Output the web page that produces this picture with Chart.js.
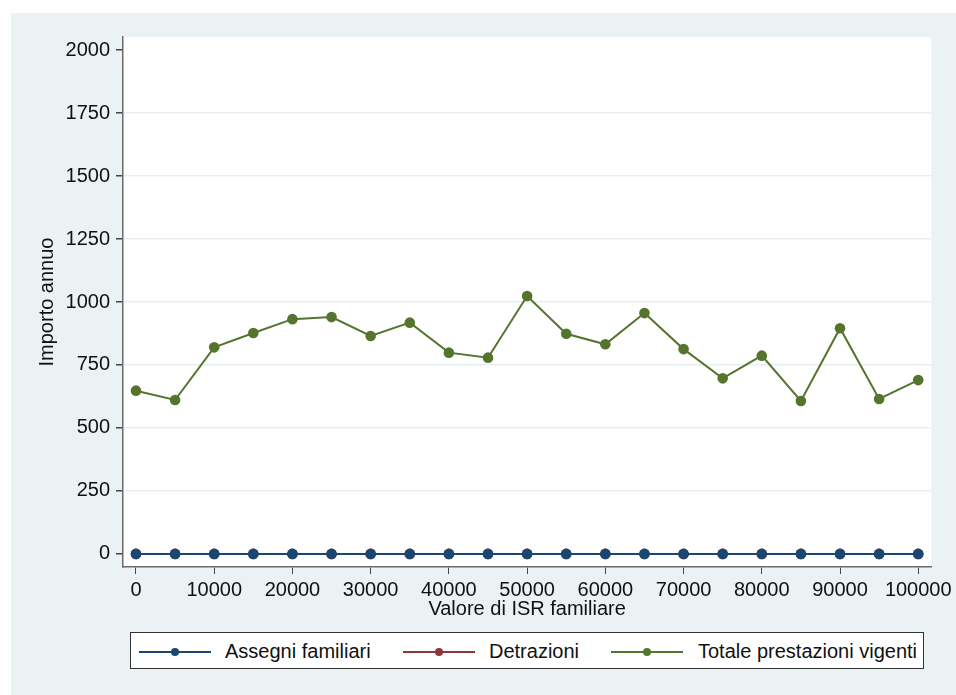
<!DOCTYPE html>
<html>
<head>
<meta charset="utf-8">
<script src="https://cdn.jsdelivr.net/npm/chart.js@4"></script>
<style>
  html, body { margin: 0; padding: 0; background: #ffffff; width: 956px; height: 695px; overflow: hidden; font-family: "Liberation Sans", Arial, sans-serif; }
  #bg { position: absolute; left: 11px; top: 13px; width: 945px; height: 682px; background: #eaf2f3; }
  #wrap { position: absolute; left: 11px; top: 13px; width: 945px; height: 682px; }
  #legend { position: absolute; left: 130px; top: 632px; width: 794px; height: 37px; border: 1px solid #333; background: #fff; box-sizing: border-box; }
  .item { position: absolute; top: 0; height: 100%; }
  .ln { position: absolute; top: 18px; height: 2px; width: 72px; }
  .dot { position: absolute; top: 15px; width: 8px; height: 8px; border-radius: 50%; }
  .txt { position: absolute; top: 6px; font-size: 20px; color: #111; white-space: nowrap; line-height: 24px; }
</style>
</head>
<body>
<div id="bg"></div>
<div id="wrap"><canvas id="c"></canvas></div>
<div id="legend"></div>
<script>
// ---- data ----
const isrValues = [0,5000,10000,15000,20000,25000,30000,35000,40000,45000,50000,55000,60000,65000,70000,75000,80000,85000,90000,95000,100000];
const assegniFamiliari = [0,0,0,0,0,0,0,0,0,0,0,0,0,0,0,0,0,0,0,0,0];
const detrazioni = [0,0,0,0,0,0,0,0,0,0,0,0,0,0,0,0,0,0,0,0,0];
const totalePrestazioni = [648,611,820,877,932,940,865,918,799,779,1024,874,832,956,813,697,787,607,896,615,690];
const xTickValues = [0,10000,20000,30000,40000,50000,60000,70000,80000,90000,100000];
const yTickValues = [0,250,500,750,1000,1250,1500,1750,2000];
const seriesNames = ["Assegni familiari","Detrazioni","Totale prestazioni vigenti"];
const seriesColors = ["#1a476f","#90353b","#55752f"];

const seriesValues = [assegniFamiliari, detrazioni, totalePrestazioni];
const datasets = seriesValues.map((vals, i) => ({
  label: seriesNames[i],
  data: isrValues.map((x, j) => ({x: x, y: vals[j]})),
  borderColor: seriesColors[i],
  backgroundColor: seriesColors[i],
  pointBackgroundColor: seriesColors[i],
  pointBorderColor: seriesColors[i],
  borderWidth: 2,
  pointRadius: 5.3,
  pointBorderWidth: 0,
  tension: 0,
  fill: false
}));

const FONT = "'Liberation Sans', Arial, sans-serif";

const canvas = document.getElementById('c');
canvas.style.width = '945px';
canvas.style.height = '682px';

new Chart(canvas, {
  type: 'line',
  data: { datasets },
  options: {
    responsive: false,
    animation: false,
    devicePixelRatio: 1,
    layout: { padding: { left: 0, top: 24, right: 24, bottom: 62 } },
    plugins: {
      legend: { display: false },
      tooltip: { enabled: false }
    },
    scales: {
      x: {
        type: 'linear',
        min: -1660,
        max: 101660,
        afterBuildTicks: (s) => { s.ticks = xTickValues.map(v => ({value: v})); },
        afterFit: (s) => { s.height = 66; },
        grid: { drawOnChartArea: false, drawTicks: true, tickLength: 7, tickColor: '#444', lineWidth: 1 },
        border: { display: true, color: '#6a6a6a', width: 1.5 },
        ticks: { color: '#111', font: { family: FONT, size: 20 }, padding: 4, maxRotation: 0, autoSkip: false, callback: (v) => String(v) },
        title: { display: true, text: 'Valore di ISR familiare', color: '#111', font: { family: FONT, size: 20 }, padding: { top: 0, bottom: 12 } }
      },
      y: {
        type: 'linear',
        min: -52,
        max: 2052,
        afterBuildTicks: (s) => { s.ticks = yTickValues.map(v => ({value: v})); },
        afterFit: (s) => { s.width = 112; },
        grid: {
          drawTicks: true,
          tickLength: 7,
          tickColor: '#444',
          lineWidth: 1.5,
          color: (ctx) => (ctx.tick && (ctx.tick.value === 0 || ctx.tick.value === 2000)) ? 'rgba(0,0,0,0)' : '#e8eff1'
        },
        border: { display: true, color: '#6a6a6a', width: 1.5 },
        ticks: { color: '#111', font: { family: FONT, size: 20 }, padding: 6, autoSkip: false, callback: (v) => String(v) },
        title: { display: true, text: 'Importo annuo', color: '#111', font: { family: FONT, size: 20 }, padding: { top: 24.5, bottom: 0 } }
      }
    }
  },
  plugins: [{
    id: 'whiteArea',
    beforeDraw(chart) {
      const {ctx, chartArea: a} = chart;
      ctx.save();
      ctx.fillStyle = '#ffffff';
      ctx.fillRect(a.left, a.top, a.right - a.left, a.bottom - a.top);
      ctx.restore();
    }
  }]
});

// ---- legend (HTML) ----
const legend = document.getElementById('legend');
const itemLeft = [8, 272, 480];
const textOffset = [86, 86, 87];
seriesNames.forEach((name, i) => {
  const it = document.createElement('div');
  it.className = 'item';
  it.style.left = itemLeft[i] + 'px';
  it.innerHTML = '<div class="ln" style="left:0;background:' + seriesColors[i] + '"></div>' +
    '<div class="dot" style="left:32px;background:' + seriesColors[i] + '"></div>' +
    '<div class="txt" style="left:' + textOffset[i] + 'px">' + name + '</div>';
  legend.appendChild(it);
});
</script>
</body>
</html>
